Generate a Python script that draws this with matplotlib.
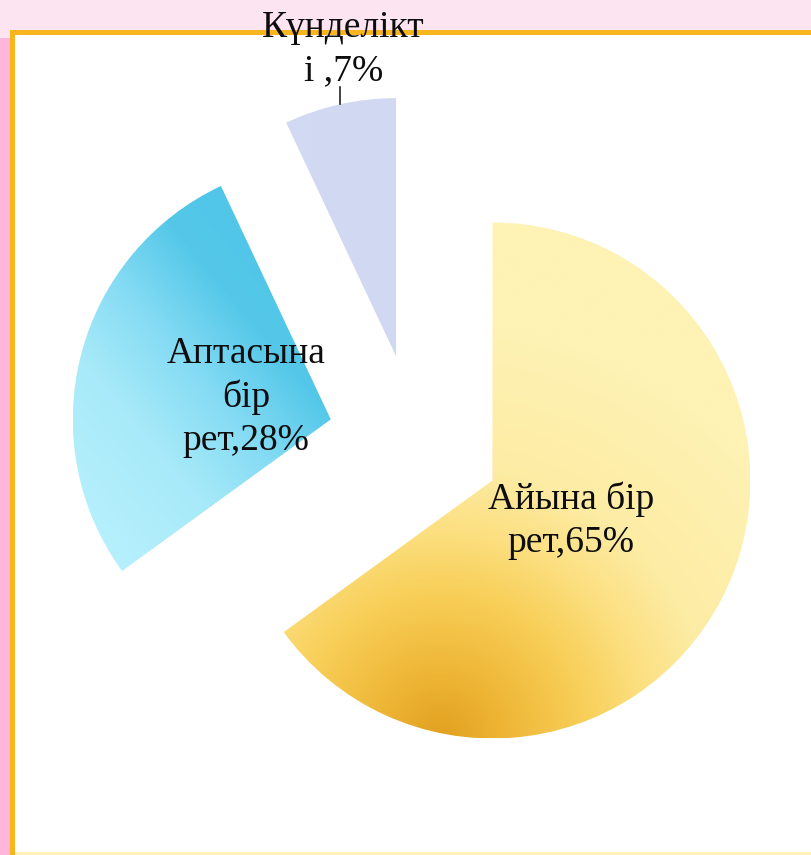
import numpy as np
import matplotlib.pyplot as plt
from matplotlib.colors import LinearSegmentedColormap
from matplotlib.patches import Rectangle

plt.rcParams['font.family'] = ['Liberation Serif', 'DejaVu Serif']

# How often: monthly, weekly, daily
labels = ['Айына бір\nрет,65%', 'Аптасына\nбір\nрет,28%', 'Күнделікт\nі ,7%']
shares = [65, 28, 7]

# gradient stops per slice (position, colour)
fills = [
    [(0, '#e2a020'), (0.15, '#eeb535'), (0.35, '#f8cf58'), (0.5, '#fcdf80'),
     (0.66, '#fdeca4'), (1, '#fef2b4')],
    [(0, '#b6f0fd'), (0.2, '#a8eaf9'), (0.35, '#86dcf4'), (0.5, '#55c8e9'),
     (1, '#45c0e5')],
    [(0, '#d6dcf4'), (0.5, '#d0d8f2'), (1, '#c8d1ef')],
]

W, H = 812, 855
fig = plt.figure(figsize=(W / 100, H / 100), dpi=100)
fig.patch.set_facecolor('#fce4f0')

# slide background: pink strip on the left, orange frame, white panel
def frect(x0, y0, x1, y1, color):
    fig.patches.append(Rectangle((x0 / W, 1 - y1 / H), (x1 - x0) / W, (y1 - y0) / H,
                                 transform=fig.transFigure, color=color, lw=0, zorder=-5))

frect(0, 38, 10, H, '#ffb6da')
frect(10, 30, W, H, '#f8b61e')
frect(15, 35, W, H, '#ffffff')
frect(15, H - 3, W, H, '#fff1b8')

ax = fig.add_axes([0, 0, 1, 1])
ax.axis('off')

wedges, _ = ax.pie(shares, startangle=90, counterclock=False, radius=1,
                   explode=[0.337, 0.337, 0.337], wedgeprops=dict(linewidth=0))

n = 400
g = np.linspace(-1, 1, n)
X, Y = np.meshgrid(g, g)

# monthly slice: radial shading from the lower edge
t_month = np.clip(np.hypot(X + 0.2, Y + 1.0) / 1.6, 0, 1)
# weekly slice: linear, dark towards the upper right edge
a = np.radians(40)
t_week = np.clip((X * np.cos(a) + Y * np.sin(a) + 1) / 2, 0, 1)
# daily slice: linear, left to right
t_day = (X + 1) / 2

for w, cols, t in zip(wedges, fills, [t_month, t_week, t_day]):
    cx, cy = w.center
    r = w.r
    cmap = LinearSegmentedColormap.from_list('fill', cols)
    im = ax.imshow(t, cmap=cmap, vmin=0, vmax=1, origin='lower',
                   extent=[cx - r, cx + r, cy - r, cy + r],
                   interpolation='bilinear', zorder=1)
    im.set_clip_path(w)
    w.set_facecolor('none')

# inside labels for the two big slices
for w, lab in list(zip(wedges, labels))[:2]:
    mid = np.radians((w.theta1 + w.theta2) / 2)
    cx, cy = w.center
    ax.text(cx + 0.34 * np.cos(mid), cy + 0.34 * np.sin(mid), lab,
            ha='center', va='center', fontsize=27, color='#0d0d0d',
            linespacing=1.32, zorder=3)

# small slice: label above with a short leader line
w = wedges[2]
mid = np.radians((w.theta1 + w.theta2) / 2)
px = w.center[0] + w.r * np.cos(mid)
py = w.center[1] + w.r * np.sin(mid)
ax.plot([px, px], [py, py + 0.066], color='#222222', lw=1.2, zorder=3)
ax.text(px + 0.015, py + 0.062, labels[2], ha='center', va='bottom',
        fontsize=27, color='#0d0d0d', linespacing=1.32, zorder=3)

# one data unit = one pie radius = 258 px, pie center at (415, 441) px
ax.set_aspect('auto')
ax.set_xlim(-415 / 258, (W - 415) / 258)
ax.set_ylim(-(H - 441) / 258, 441 / 258)

fig.savefig('out.png', dpi=100, facecolor=fig.get_facecolor())
